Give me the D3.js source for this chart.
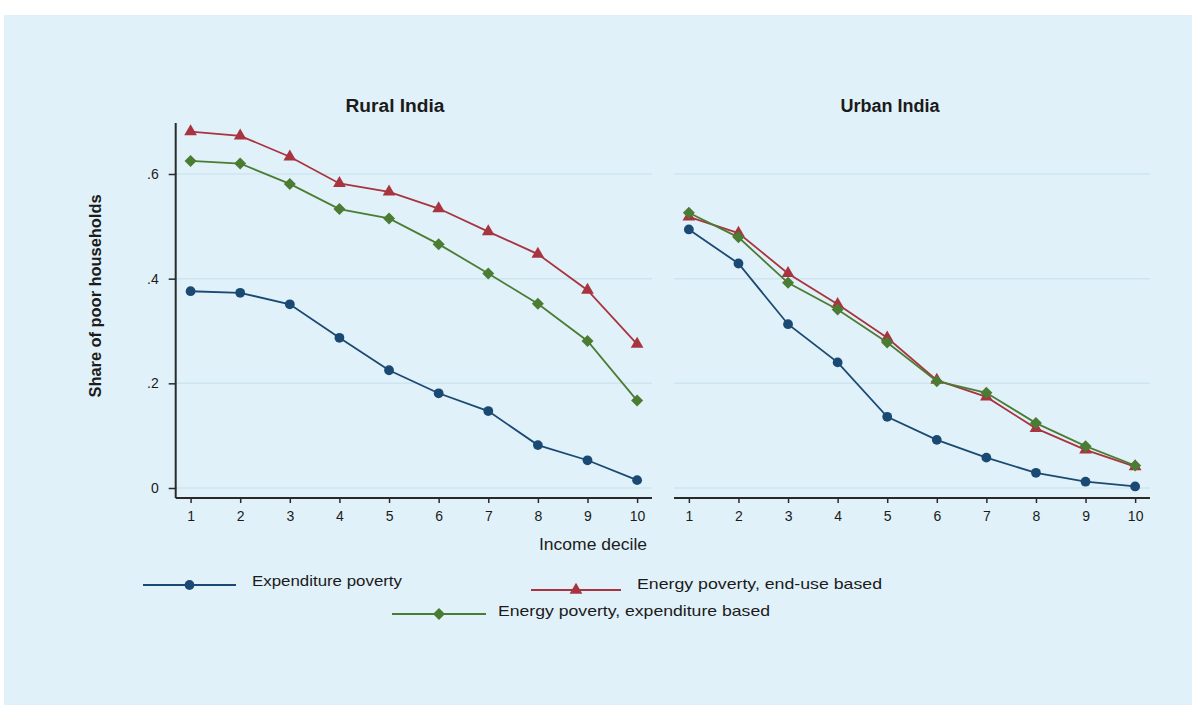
<!DOCTYPE html>
<html lang="en">
<head>
<meta charset="UTF-8">
<title>Share of poor households by income decile</title>
<style>
    body { margin: 0; background: #fff; }
    svg { display: block; }
    text { font-family: "Liberation Sans Narrow", "Arial Narrow", "Liberation Sans", Arial, sans-serif; fill: #1b1b1b; }
</style>
</head>
<body>
<script src="https://cdn.jsdelivr.net/npm/d3@7"></script>
<script>
    const width = 1192;
    const height = 706;

    // data
    const deciles = [1, 2, 3, 4, 5, 6, 7, 8, 9, 10];
    const yTicks = [0, 0.2, 0.4, 0.6];

    const ruralExpenditure = [0.376, 0.373, 0.351, 0.287, 0.225, 0.181, 0.147, 0.082, 0.053, 0.015];
    const ruralEndUse      = [0.681, 0.673, 0.633, 0.582, 0.566, 0.534, 0.490, 0.447, 0.378, 0.275];
    const ruralEnergyExp   = [0.625, 0.620, 0.581, 0.533, 0.515, 0.466, 0.410, 0.352, 0.281, 0.167];

    const urbanExpenditure = [0.494, 0.429, 0.313, 0.240, 0.136, 0.092, 0.058, 0.029, 0.012, 0.003];
    const urbanEndUse      = [0.518, 0.487, 0.410, 0.351, 0.287, 0.206, 0.174, 0.114, 0.073, 0.041];
    const urbanEnergyExp   = [0.526, 0.479, 0.392, 0.341, 0.278, 0.204, 0.182, 0.124, 0.080, 0.043];

    const seriesNames = ["Expenditure poverty", "Energy poverty, end-use based", "Energy poverty, expenditure based"];
    const seriesColors = ["#1a4a73", "#a8343f", "#4a7d33"];

    // marker shapes: circle, triangle, diamond (rotated square)
    const markerPath = [
        d3.symbol().type(d3.symbolCircle).size(75)(),
        d3.symbol().type(d3.symbolTriangle).size(70)(),
        d3.symbol().type(d3.symbolSquare).size(72)()
    ];
    const markerRotate = [0, 0, 45];

    const panels = [
        {title: "Rural India", titleX: 395, left: 175.7, right: 652, series: [ruralExpenditure, ruralEndUse, ruralEnergyExp], yaxis: true},
        {title: "Urban India", titleX: 890, left: 674, right: 1150, series: [urbanExpenditure, urbanEndUse, urbanEnergyExp], yaxis: false}
    ];

    const svg = d3.select("body").append("svg")
        .attr("width", width)
        .attr("height", height);

    svg.append("rect")
        .attr("x", 4).attr("y", 15)
        .attr("width", width - 4).attr("height", 690)
        .attr("fill", "#e1f1f9");

    const y = d3.scaleLinear().domain([0, 0.6]).range([488, 174]);
    const axisBottom = 498;
    const axisTop = 123;

    panels.forEach(p => {
        const x = d3.scaleLinear().domain([0.7, 10.3]).range([p.left, p.right]);
        const g = svg.append("g");

        // gridlines
        g.selectAll(".grid").data(yTicks).enter().append("line")
            .attr("x1", p.left).attr("x2", p.right)
            .attr("y1", d => y(d)).attr("y2", d => y(d))
            .attr("stroke", "#cde5ef").attr("stroke-width", 1.5);

        // x axis
        const xa = g.append("g")
            .attr("transform", `translate(0,${axisBottom})`)
            .call(d3.axisBottom(x).tickValues(deciles).tickSize(5).tickPadding(8).tickFormat(d3.format("d")));
        xa.select(".domain").attr("stroke", "#2a2a2a").attr("stroke-width", 2).attr("d", `M${p.left},0H${p.right}`);
        xa.selectAll(".tick line").attr("stroke", "#2a2a2a").attr("stroke-width", 1.5);
        xa.selectAll(".tick text").attr("font-size", 14).attr("fill", "#1b1b1b")
            .style("font-family", "'Liberation Sans', sans-serif");

        if (p.yaxis) {
            const ya = g.append("g")
                .attr("transform", `translate(${p.left},0)`)
                .call(d3.axisLeft(y).tickValues(yTicks).tickSize(7).tickPadding(10)
                    .tickFormat(d => d === 0 ? "0" : d3.format(".1f")(d).replace(/^0/, "")));
            ya.select(".domain").attr("stroke", "#2a2a2a").attr("stroke-width", 2).attr("d", `M0,${axisTop}V${axisBottom}`);
            ya.selectAll(".tick line").attr("stroke", "#2a2a2a").attr("stroke-width", 1.5);
            ya.selectAll(".tick text").attr("font-size", 14).attr("fill", "#1b1b1b")
                .style("font-family", "'Liberation Sans', sans-serif");
        }

        // title
        svg.append("text")
            .attr("x", p.titleX).attr("y", 112)
            .attr("text-anchor", "middle")
            .attr("font-size", 18).attr("font-weight", "bold")
            .attr("textLength", 99).attr("lengthAdjust", "spacingAndGlyphs")
            .text(p.title);

        // series lines + markers
        const line = d3.line().x((d, i) => x(deciles[i])).y(d => y(d));
        p.series.forEach((vals, k) => {
            g.append("path")
                .datum(vals)
                .attr("d", line)
                .attr("fill", "none")
                .attr("stroke", seriesColors[k])
                .attr("stroke-width", 1.8);
            g.selectAll(".m" + k).data(vals).enter().append("path")
                .attr("class", "m" + k)
                .attr("transform", (d, i) => `translate(${x(deciles[i])},${y(d)}) rotate(${markerRotate[k]})`)
                .attr("d", markerPath[k])
                .attr("fill", seriesColors[k]);
        });
    });

    // axis titles
    svg.append("text")
        .attr("x", 647).attr("y", 550)
        .attr("text-anchor", "end")
        .attr("font-size", 16)
        .attr("textLength", 108).attr("lengthAdjust", "spacingAndGlyphs")
        .text("Income decile");

    svg.append("text")
        .attr("transform", "translate(101,296) rotate(-90)")
        .attr("text-anchor", "middle")
        .attr("font-size", 16)
        .attr("font-weight", "bold")
        .attr("textLength", 203).attr("lengthAdjust", "spacingAndGlyphs")
        .text("Share of poor households");

    // legend
    const legendItems = [
        {x1: 143, x2: 236, y: 585, tx: 252, ty: 582, w: 150},
        {x1: 531, x2: 621, y: 590, tx: 637, ty: 585, w: 245},
        {x1: 392, x2: 486, y: 614, tx: 498, ty: 612, w: 272}
    ];
    legendItems.forEach((l, k) => {
        svg.append("line")
            .attr("x1", l.x1).attr("x2", l.x2).attr("y1", l.y).attr("y2", l.y)
            .attr("stroke", seriesColors[k]).attr("stroke-width", 2.2);
        svg.append("path")
            .attr("transform", `translate(${(l.x1 + l.x2) / 2},${l.y}) rotate(${markerRotate[k]})`)
            .attr("d", markerPath[k])
            .attr("fill", seriesColors[k]);
        svg.append("text")
            .attr("x", l.tx).attr("y", l.ty)
            .attr("dominant-baseline", "middle")
            .attr("font-size", 15)
            .attr("textLength", l.w).attr("lengthAdjust", "spacingAndGlyphs")
            .text(seriesNames[k]);
    });
</script>
</body>
</html>
